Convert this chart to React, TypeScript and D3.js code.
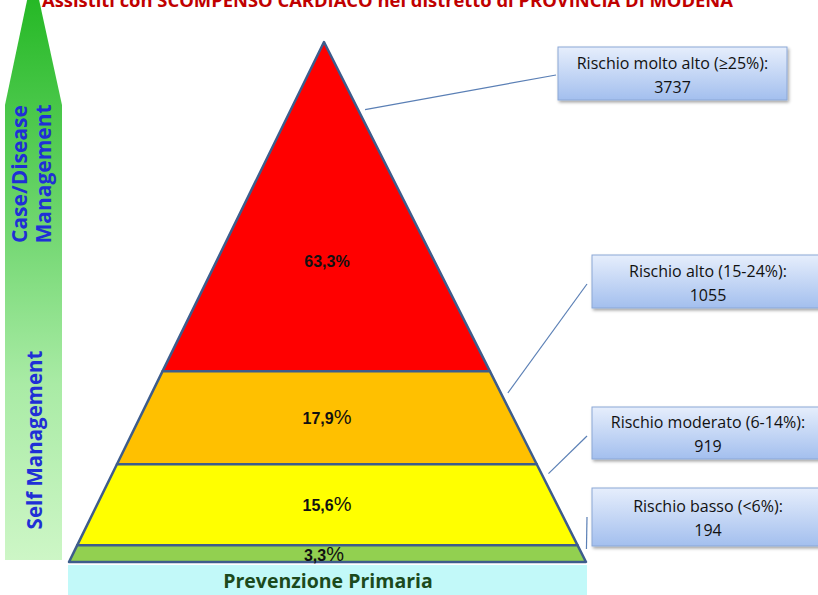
import React from "react";
import * as d3 from "d3";

const title = "Assistiti con SCOMPENSO CARDIACO nel distretto di PROVINCIA DI MODENA";
const categories = [
  "Rischio molto alto (≥25%):",
  "Rischio alto (15-24%):",
  "Rischio moderato (6-14%):",
  "Rischio basso (<6%):",
];
const counts = [3737, 1055, 919, 194];
const percents = [63.3, 17.9, 15.6, 3.3];
const bandColors = ["#ff0000", "#ffc000", "#ffff00", "#92d050"];
const baseLabel = "Prevenzione Primaria";
const arrowTop = ["Case/Disease", "Management"];
const arrowBottom = "Self Management";

const W = 818;
const H = 595;

const fmt = (v: number) => v.toFixed(1).replace(".", ",");

export default function App() {
  const apexY = 42;
  const baseY = 562;
  const apexX = 324;
  const baseL = 69;
  const baseR = 586;
  const y = d3.scaleLinear().domain([0, 100]).range([apexY, baseY]);
  const xl = d3.scaleLinear().domain([0, 100]).range([apexX, baseL]);
  const xr = d3.scaleLinear().domain([0, 100]).range([apexX, baseR]);
  const cum = d3.cumsum(percents);
  const bands = percents.map((p, i) => {
    const a = i === 0 ? 0 : cum[i - 1];
    const b = Math.min(100, cum[i]);
    return { a, b, p, color: bandColors[i] };
  });
  const line = d3.line<[number, number]>();

  const stroke = "#3d5c8c";

  const boxes = [
    { x: 558, y: 47, w: 229, h: 53 },
    { x: 592, y: 255, w: 240, h: 53 },
    { x: 592, y: 407, w: 240, h: 52 },
    { x: 592, y: 488, w: 240, h: 58 },
  ];
  const anchorsPct = [13, 67.5, 83, 97.5];
  const boxFont = "'Open Sans', 'Liberation Sans', Arial, sans-serif";

  return (
    <div style={{ position: "absolute", left: 0, top: 0 }}>
      <svg width={W} height={H} style={{ display: "block", background: "#fff" }}>
        <defs>
          <linearGradient id="arrowGrad" x1="0" y1="0" x2="0" y2="1">
            <stop offset="0" stopColor="#1db51d" />
            <stop offset="0.35" stopColor="#5fd05f" />
            <stop offset="0.7" stopColor="#a9eba5" />
            <stop offset="1" stopColor="#cdf6c6" />
          </linearGradient>
          <linearGradient id="boxGrad" x1="0" y1="0" x2="0" y2="1">
            <stop offset="0" stopColor="#e6eefc" />
            <stop offset="1" stopColor="#a3bfee" />
          </linearGradient>
          <filter id="shadow" x="-10%" y="-10%" width="130%" height="140%">
            <feDropShadow dx="1.5" dy="2" stdDeviation="1.5" floodColor="#000" floodOpacity="0.35" />
          </filter>
        </defs>

        {/* title, clipped at top as in the reference */}
        <text
          x={42}
          y={7}
          fill="#c00000"
          fontFamily="'Open Sans', 'Liberation Sans', Arial, sans-serif"
          fontWeight="bold"
          fontSize={18}
          textLength={691}
          lengthAdjust="spacingAndGlyphs"
        >
          {title}
        </text>

        {/* left arrow */}
        <path
          d={line([
            [33, -28],
            [62, 105],
            [62, 560],
            [5, 560],
            [5, 105],
          ]) + "Z"}
          fill="url(#arrowGrad)"
        />
        <g
          fill="#1f2fd6"
          fontFamily="'Open Sans', 'Liberation Sans', Arial, sans-serif"
          fontWeight="bold"
          fontSize={21}
          textAnchor="middle"
        >
          <text transform="translate(27,174) rotate(-90)">{arrowTop[0]}</text>
          <text transform="translate(51,174) rotate(-90)">{arrowTop[1]}</text>
          <text transform="translate(42,440) rotate(-90)" fontSize={20.5}>
            {arrowBottom}
          </text>
        </g>

        {/* base bar */}
        <rect x={68} y={565} width={519} height={30} fill="#c2f9f9" />
        <text
          x={328}
          y={588}
          textAnchor="middle"
          fill="#1c4a1c"
          fontFamily="'Open Sans', 'Liberation Sans', Arial, sans-serif"
          fontWeight="bold"
          fontSize={19.5}
        >
          {baseLabel}
        </text>

        {/* pyramid bands */}
        {bands.map((b, i) => {
          const pts: [number, number][] =
            i === 0
              ? [
                  [xl(0), y(0)],
                  [xr(b.b), y(b.b)],
                  [xl(b.b), y(b.b)],
                ]
              : [
                  [xl(b.a), y(b.a)],
                  [xr(b.a), y(b.a)],
                  [xr(b.b), y(b.b)],
                  [xl(b.b), y(b.b)],
                ];
          return (
            <path
              key={i}
              d={line(pts) + "Z"}
              fill={b.color}
              stroke={stroke}
              strokeWidth={2.5}
              strokeLinejoin="round"
            />
          );
        })}

        {/* percentage labels */}
        {bands.map((b, i) => {
          const ly = i === 0 ? y(b.b * 0.68) + 1 : y((b.a + b.b) / 2) + 6;
          return (
            <text
              key={i}
              x={i === 3 ? 324 : 327}
              y={i === 3 ? ly + 1 : ly}
              textAnchor="middle"
              fontFamily="'Liberation Sans', Arial, sans-serif"
              fill="#111"
              fontSize={16}
            >
              <tspan fontWeight="bold">{fmt(b.p)}</tspan>
              <tspan fontSize={i === 0 ? 16 : 20} fontWeight={i === 0 ? "bold" : "normal"}>
                %
              </tspan>
            </text>
          );
        })}

        {/* connectors */}
        {anchorsPct.map((p, i) => {
          const sx = xr(p) + 7;
          const sy = y(p);
          const bx = boxes[i];
          const ey = i === 0 ? 75 : i === 1 ? 284 : i === 2 ? 436 : 517;
          return (
            <line
              key={i}
              x1={sx}
              y1={sy}
              x2={bx.x - (i === 0 ? 2 : 5)}
              y2={ey}
              stroke="#5a7fb5"
              strokeWidth={1.2}
            />
          );
        })}

        {/* boxes */}
        {boxes.map((b, i) => {
          const cx = i === 0 ? b.x + b.w / 2 : 708;
          return (
            <g key={i}>
              <rect
                x={b.x}
                y={b.y}
                width={b.w}
                height={b.h}
                fill="url(#boxGrad)"
                stroke="#8ba7d6"
                strokeWidth={1}
                filter="url(#shadow)"
              />
              <text
                x={cx}
                y={b.y + b.h / 2 - 5}
                textAnchor="middle"
                fill="#111"
                fontFamily={boxFont}
                fontSize={16}
              >
                {categories[i]}
              </text>
              <text
                x={cx}
                y={b.y + b.h / 2 + 19}
                textAnchor="middle"
                fill="#111"
                fontFamily={boxFont}
                fontSize={16}
              >
                {counts[i]}
              </text>
            </g>
          );
        })}
      </svg>
    </div>
  );
}
